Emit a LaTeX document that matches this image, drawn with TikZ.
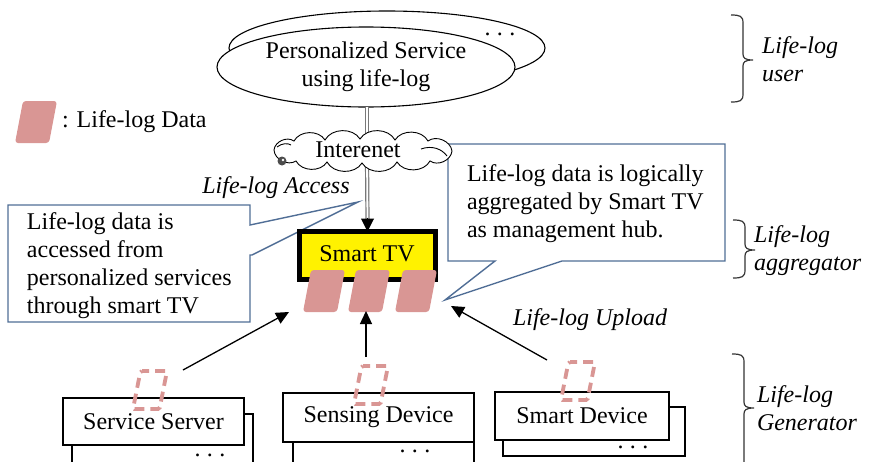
\documentclass[tikz,border=0pt]{standalone}
\usepackage{fontspec}
\setmainfont{Liberation Serif}
\usetikzlibrary{shapes.geometric,arrows.meta,calc}
\definecolor{pinkd}{RGB}{217,150,148}
\definecolor{callblue}{RGB}{80,110,150}
\definecolor{dblgray}{RGB}{120,120,120}
\newcommand\mybrace[4]{%
 \draw[bracestyle] (#1,#2) .. controls ({#1+9},#2) and ({#1+12},{#2+1}) .. ({#1+12},{#2+8})
  -- ({#1+12},{#4-6}) .. controls ({#1+12},{#4-2}) and ({#1+14},#4) .. ({#1+22},#4)
  .. controls ({#1+14},#4) and ({#1+12},{#4+2}) .. ({#1+12},{#4+6})
  -- ({#1+12},{#3-8}) .. controls ({#1+12},{#3-1}) and ({#1+9},#3) .. (#1,#3);}
\begin{document}
\begin{tikzpicture}[x=1pt,y=-1pt,
  font=\fontsize{24}{28}\selectfont,
  every node/.style={inner sep=0pt, outer sep=0pt},
  lbl/.style={font=\fontsize{24}{28}\selectfont\itshape},
  callout/.style={draw=callblue, line width=1.4pt, fill=white, line join=miter},
  lldpic/.pic={\fill[pinkd, rounded corners=3pt] (-13,-21) -- (21,-21) -- (13,21) -- (-21,21) -- cycle;},
  llddash/.pic={\draw[pinkd, line width=3.8pt, dash pattern=on 10pt off 6pt, dash phase=3pt, rounded corners=1.5pt] (-9.5,-19) -- (17,-19) -- (9.5,19) -- (-17,19) -- cycle;},
  arr/.style={-{Triangle[length=13pt,width=12pt]}, line width=1.3pt},
  box/.style={draw, line width=1.1pt, fill=white},
  dblline/.style={draw=dblgray, double=white, line width=1.2pt, double distance=1.8pt},
  bracestyle/.style={line width=1.2pt, draw=black!80},
  cloudline/.style={draw, fill=white, line width=0.9pt},
  dotsn/.style={anchor=base}
]
\useasboundingbox (0,0) rectangle (871,461);

% ---- personalized service ellipses
\node[ellipse, draw, line width=1.1pt, fill=white, minimum width=316pt, minimum height=74pt] (pback) at (387,48) {};
\node[dotsn] (pdots) at (500,35) {.\hspace{6.5pt}.\hspace{6.5pt}.};
\node[ellipse, draw, line width=1.1pt, fill=white, minimum width=298pt, minimum height=80pt, align=center] (pfront) at (366,67) {Personalized Service\\using life-log};

% ---- legend
\pic (leg) at (36,122) {lldpic};
\node[anchor=west] (legt) at (62,122) {: Life-log Data};

% ---- callouts
\path[callout] (8,205) -- (250,205) -- (250,225) -- (358,202) -- (252,255) -- (250,255) -- (250,322) -- (8,322) -- cycle;
\node[anchor=west, align=left] (ctl) at (27,266) {Life-log data is\\accessed from\\personalized services\\through smart TV};
\path[callout] (448,144) -- (725,144) -- (725,261) -- (562,261) -- (445,300) -- (495,261) -- (448,261) -- cycle;
\node[anchor=west, align=left] (ctr) at (467,204) {Life-log data is logically\\aggregated by Smart TV\\as management hub.};

% ---- connectors top
\coordinate (c1) at (367,145);
\draw[dblline] (pfront.south -| c1) -- (c1);
\coordinate (c2) at (367,160);
\node[draw, line width=5pt, fill=yellow, minimum width=136pt, minimum height=48pt] (tv) at (367.5,255.5) {};
\draw[dblline] (c2) -- ($(tv.north)+(0,-12)$);
\draw[line width=1pt, -{Triangle[length=13pt,width=13pt]}] ($(tv.north)+(0,-14)$) -- (tv.north);

% ---- cloud
\path[cloudline] (274,150) to[bend left=60] (294,141) to[bend left=60] (325,140)
  to[bend left=60] (360,139) to[bend left=60] (395,140) to[bend left=60] (428,141)
  to[bend left=60] (452,151) to[bend left=60] (430,161) to[bend left=60] (397,162)
  to[bend left=60] (362,163) to[bend left=60] (327,162) to[bend left=60] (296,161)
  to[bend left=60] cycle;
\node (cloud) at (358,150) {Interenet};
\draw[line width=0.9pt] (421,149) .. controls (432,145) and (442,149) .. (447,156);
\draw[line width=0.9pt] (277,147) .. controls (282,143) and (288,143) .. (291,145);
\fill[black!70] (282,161) circle (4.5pt);
\fill[white] (283,160) circle (1.3pt);

% ---- smart TV
\node (tvt) at (367,254) {Smart TV};
\pic (d1) at (324,291) {lldpic};
\pic (d2) at (369,291) {lldpic};
\pic (d3) at (416,291) {lldpic};

% ---- labels
\node[lbl] (acc) at (276,188) {Life-log Access};
\node[lbl] (upl) at (590,320) {Life-log Upload};

% ---- bottom boxes
\node[box, minimum width=181pt, minimum height=61pt] (ssb) at (162.5,444.5) {};
\node[dotsn] at (210,456.5) {.\hspace{6.5pt}.\hspace{6.5pt}.};
\node[box, minimum width=181pt, minimum height=47pt] (ss) at (153.5,421.5) {Service Server};
\node[box, minimum width=181pt, minimum height=50pt] (sdb) at (383.5,450) {};
\node[dotsn] at (415,452.5) {.\hspace{6.5pt}.\hspace{6.5pt}.};
\node[box, minimum width=191pt, minimum height=49pt] (sd) at (378.5,417.5) {Sensing Device};
\node[box, minimum width=182pt, minimum height=49pt] (smb) at (594,431.5) {};
\node[dotsn] at (633,448.5) {.\hspace{6.5pt}.\hspace{6.5pt}.};
\node[box, minimum width=174pt, minimum height=48pt] (sm) at (582,416) {Smart Device};

% ---- dashed data
\pic (e1) at (150,390) {llddash};
\pic (e2) at (371,385) {llddash};
\pic (e3) at (578,381) {llddash};

% ---- upload arrows
\coordinate (s1) at (183,370);
\coordinate (t1) at (289,312);
\coordinate (s2) at (366,357);
\coordinate (t2) at (366,311);
\coordinate (s3) at (547,360);
\coordinate (t3) at (451,306);
\draw[arr] (s1) -- (t1);
\draw[arr] (s2) -- (t2);
\draw[arr] (s3) -- (t3);

% ---- braces
\mybrace{731}{15}{102}{60}
\node[lbl, anchor=west, align=left] (bu) at (762,59) {Life-log\\user};
\mybrace{733}{220}{278}{250}
\node[lbl, anchor=west, align=left] (ba) at (754,251) {Life-log\\aggregator};
\mybrace{732}{354}{475}{408}
\node[lbl, anchor=west, align=left] (bg) at (757,408) {Life-log\\Generator};
\end{tikzpicture}
\end{document}
